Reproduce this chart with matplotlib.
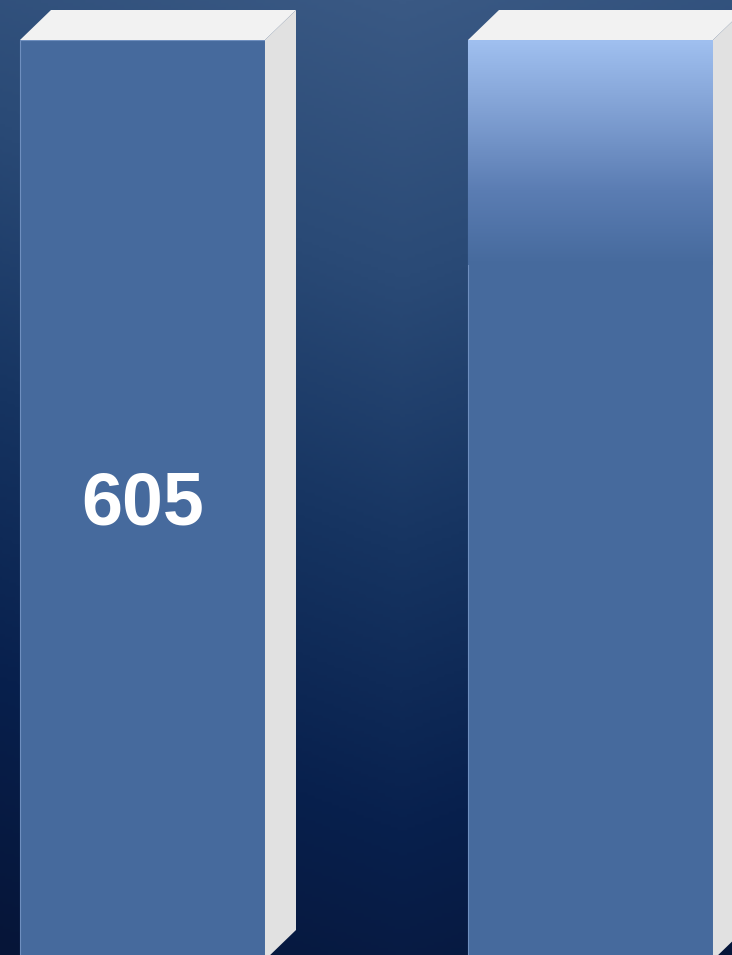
import numpy as np
import matplotlib
matplotlib.use('Agg')
import matplotlib.pyplot as plt
from matplotlib.patches import Polygon
from matplotlib.colors import LinearSegmentedColormap

categories = ['A', 'B']
values = [605, 605]
labels = ['605', '']

W, H = 732, 955
fig = plt.figure(figsize=(W / 100, H / 100), dpi=100)
ax = fig.add_axes([0, 0, 1, 1])

# scales: bar centres at 142.5 px and 590.5 px, bar top (605) at 40 px, base at ~960 px
px_x = 448.0
px_y = 920.0 / 605
x0 = -142.5 / px_x
x1 = x0 + W / px_x
y_top = values[0] + 40 / px_y
y_bot = y_top - H / px_y
ax.axis('off')

# background gradient (row 0 = top of picture)
yy, xx = np.mgrid[0:1:300j, 0:1:300j]
t = np.clip(yy * 0.85 + np.abs(xx - 0.55) * 0.25, 0, 1)
bg = LinearSegmentedColormap.from_list('bg', ['#3a5984', '#2a4a76', '#163461', '#08204d', '#061538'])
ax.imshow(t, cmap=bg, extent=[x0, x1, y_bot, y_top], aspect='auto', zorder=0, origin='upper')

width = 245 / px_x
dx = 31 / px_x
dy = 30 / px_y
base = 0
xs = np.arange(len(categories))
front = '#466a9d'

ax.bar(xs, values, width=width, color=front, edgecolor='#6f8fbf', linewidth=0.8, zorder=2)

for x, v in zip(xs, values):
    l, r = x - width / 2, x + width / 2
    ax.add_patch(Polygon([(l, v), (l + dx, v + dy), (r + dx, v + dy), (r, v)],
                         closed=True, fc='#f2f2f2', ec='none', zorder=3))
    ax.add_patch(Polygon([(r, base), (r + dx, base + dy), (r + dx, v + dy), (r, v)],
                         closed=True, fc='#e1e1e1', ec='none', zorder=3))

# highlight on the second bar
hl = LinearSegmentedColormap.from_list('hl', ['#a0c0f0', '#7f9fd2', '#5b7db3', front])
g = np.linspace(0, 1, 256).reshape(-1, 1)
v2 = values[1]
ax.imshow(g, cmap=hl, extent=[xs[1] - width / 2, xs[1] + width / 2, v2 - 225 / px_y, v2],
          aspect='auto', zorder=2.5, origin='upper')

for x, v, lab in zip(xs, values, labels):
    if lab:
        ax.text(x, v / 2 - 3.6, lab, ha='center', va='center', color='white',
                fontsize=53, fontweight='bold', family='Liberation Sans', zorder=4)

ax.set_xlim(x0, x1)
ax.set_ylim(y_bot, y_top)
fig.savefig('out.png', dpi=100)
